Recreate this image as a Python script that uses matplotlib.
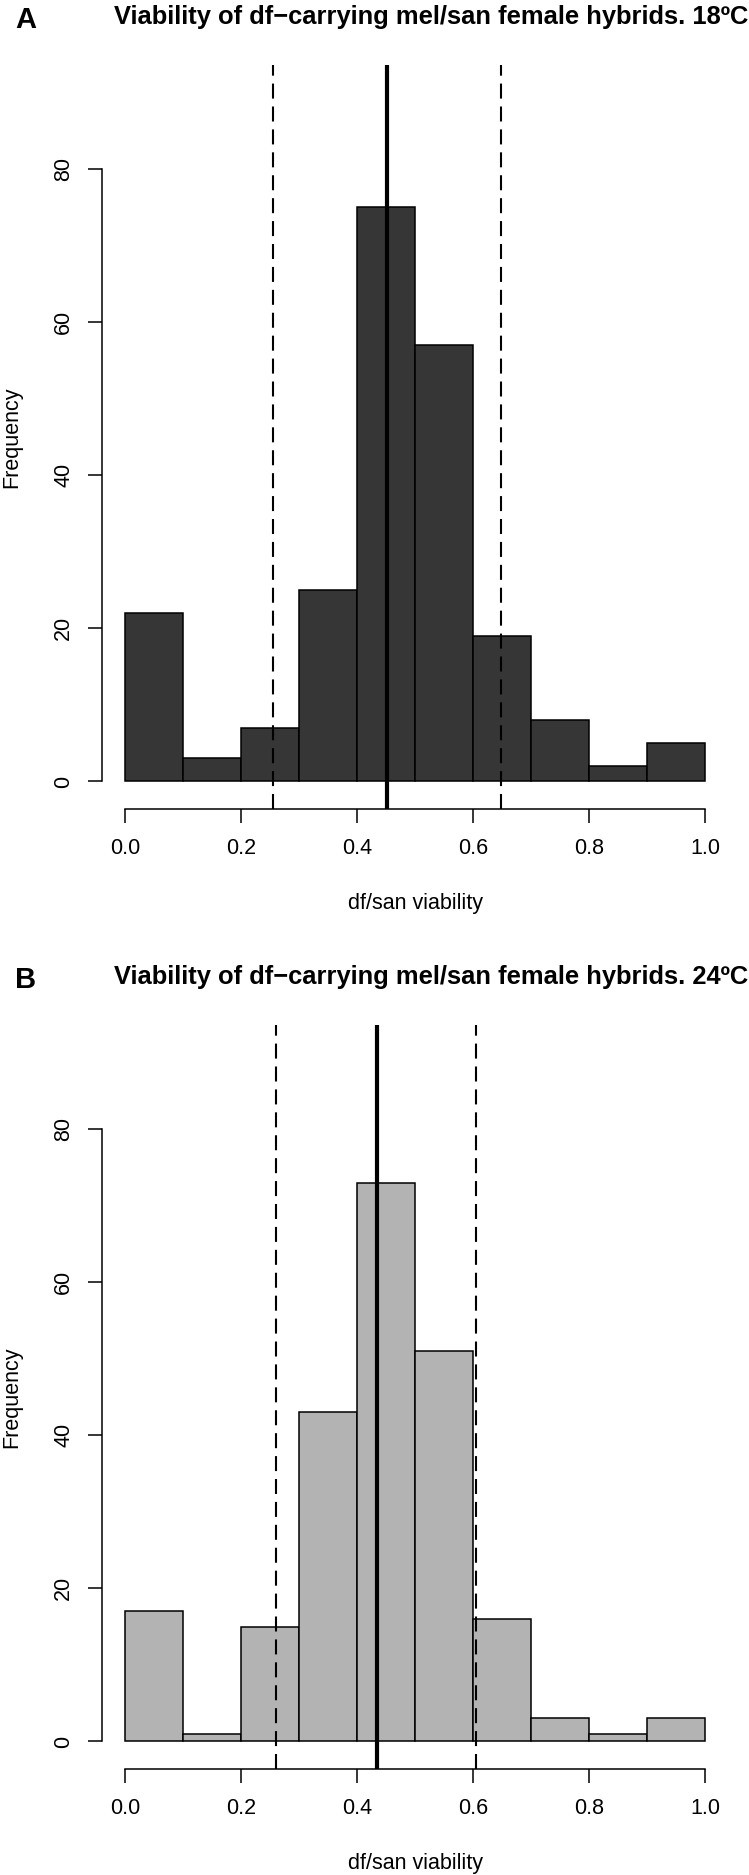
import numpy as np
import matplotlib.pyplot as plt

# histogram bins and counts
bin_edges = [0.0, 0.1, 0.2, 0.3, 0.4, 0.5, 0.6, 0.7, 0.8, 0.9, 1.0]
counts_18 = [22, 3, 7, 25, 75, 57, 19, 8, 2, 5]
counts_24 = [17, 1, 15, 43, 73, 51, 16, 3, 1, 3]

# mean (solid) and 95% interval (dashed)
mean_18, lo_18, hi_18 = 0.452, 0.256, 0.649
mean_24, lo_24, hi_24 = 0.434, 0.260, 0.606

titles = ["Viability of df\u2212carrying mel/san female hybrids. 18\u00baC",
          "Viability of df\u2212carrying mel/san female hybrids. 24\u00baC"]
panel_labels = ["A", "B"]
xticks = [0.0, 0.2, 0.4, 0.6, 0.8, 1.0]
yticks = [0, 20, 40, 60, 80]

fam = ['Liberation Sans Narrow', 'Liberation Sans', 'DejaVu Sans']
plt.rcParams['font.family'] = fam

W, H = 749, 1875
fig = plt.figure(figsize=(W / 100, H / 100), dpi=100)
TITLE_W = 635  # px width of the title in the reference
FS = 15.5


def fit_text(t, target_px):
    # shrink/grow a text so its rendered width matches the reference
    r = fig.canvas.get_renderer()
    w = t.get_window_extent(renderer=r).width
    t.set_fontsize(t.get_fontsize() * target_px / w)


def panel(top_px, bottom_px, counts, color, mean, lo, hi, title, label):
    left, right = 101.8, 728.2
    aw = right - left
    ax = fig.add_axes([left / W, 1 - bottom_px / H, aw / W, (bottom_px - top_px) / H])
    ax.hist(bin_edges[:-1], bins=bin_edges, weights=counts, color=color,
            edgecolor='black', linewidth=1.1)
    ax.set_xlim(-0.04, 1.04)
    ax.set_ylim(-3.6, 93.6)
    ax.axvline(mean, color='black', lw=3.0)
    for v in (lo, hi):
        ax.axvline(v, color='black', lw=1.5, dashes=(7.2, 3.8))
    for s in ('top', 'right'):
        ax.spines[s].set_visible(False)
    ax.spines['left'].set_bounds(0, 80)
    ax.spines['bottom'].set_bounds(0, 1)
    ax.spines['left'].set_linewidth(1.1)
    ax.spines['bottom'].set_linewidth(1.1)
    ax.set_xticks(xticks)
    ax.set_xticklabels([f"{t:.1f}" for t in xticks])
    ax.set_yticks(yticks)
    ax.set_yticklabels([str(t) for t in yticks], rotation=90, va='center')
    ax.tick_params(axis='both', length=10, width=1.1, labelsize=FS, direction='out')
    ax.tick_params(axis='x', pad=11)
    ax.tick_params(axis='y', pad=10)
    ax.set_xlabel("df/san viability", fontsize=FS, labelpad=24)
    ax.set_ylabel("Frequency", fontsize=FS, va='center')
    ax.yaxis.set_label_coords((12 - left) / aw, 0.5)
    # title and panel letter
    t = fig.text(431 / W, 1 - (top_px - 48) / H, title, ha='center', va='center',
                 fontsize=20, fontweight='bold')
    fit_text(t, TITLE_W)
    fig.text(26 / W, 1 - (top_px - 45) / H, label, ha='center', va='center',
             fontsize=21, fontweight='bold')
    return ax


panel(65, 809, counts_18, '#363636', mean_18, lo_18, hi_18, titles[0], panel_labels[0])
panel(1025, 1769, counts_24, '#b3b3b3', mean_24, lo_24, hi_24, titles[1], panel_labels[1])

fig.savefig("out.png", dpi=100)
